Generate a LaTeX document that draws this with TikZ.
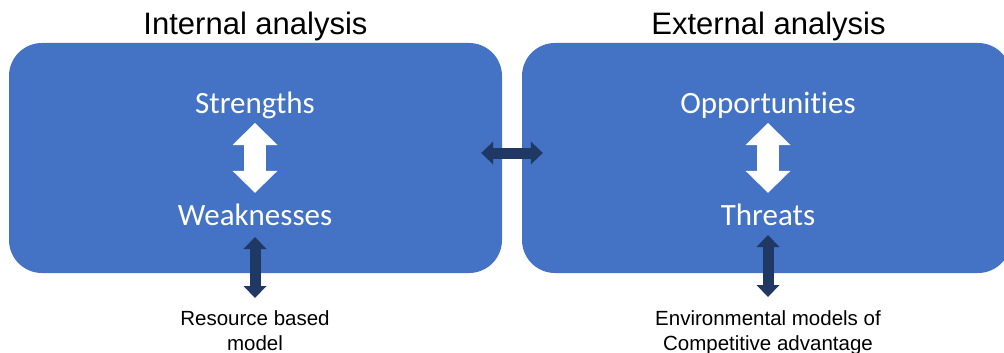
\documentclass[tikz,border=0pt]{standalone}
\usepackage{fontspec}
\usetikzlibrary{arrows.meta,calc}
\newfontfamily\arialf{Liberation Sans}
\newfontfamily\calf[Ligatures=CommonOff]{Carlito}
\definecolor{boxblue}{HTML}{4472C4}
\definecolor{navy}{HTML}{203864}

\begin{document}
\begin{tikzpicture}[x=1pt,y=-1pt,
  panel/.style={rectangle, rounded corners=33pt, fill=boxblue, inner sep=0pt},
  heading/.style={font=\arialf\fontsize{31}{37}\selectfont, anchor=base, inner sep=0pt},
  item/.style={font=\calf\fontsize{31}{37}\selectfont, text=white, anchor=base,
    inner sep=0pt, text height=20pt, text depth=0pt},
  note/.style={font=\arialf\fontsize{20.5}{25}\selectfont, align=center,
    anchor=north, inner sep=0pt},
  swap/.style={draw=white, line width=22pt,
    {Triangle[length=22pt,width=45pt,line width=0pt]}-{Triangle[length=22pt,width=45pt,line width=0pt]}},
  link/.style={draw=navy, line width=11pt,
    {Triangle[length=12pt,width=23pt,line width=0pt]}-{Triangle[length=12pt,width=23pt,line width=0pt]}}
]
\useasboundingbox (0,0) rectangle (1004,353);

% the two analysis panels
\node[panel, minimum width=493pt, minimum height=230pt] (int) at (255.5,158) {};
\node[panel, minimum width=489pt, minimum height=230pt] (ext) at (766.5,158) {};

% headings
\node[heading] (intT) at (255.5,35) {Internal analysis};
\node[heading] (extT) at (768.5,35) {External analysis};

% panel contents
\node[item] (S) at (255,113) {Strengths};
\node[item] (W) at (255,225) {Weaknesses};
\node[item] (O) at (768,113) {Opportunities};
\node[item] (T) at (768,225) {Threats};

% models below the panels
\node[note] (rbm) at (255,310) {Resource based\\model};
\node[note] (env) at (768,310) {Environmental models of\\Competitive advantage};

% arrows
\draw[swap] ([yshift=-10pt]S.base) -- ([yshift=12pt]W.north);
\draw[swap] ([yshift=-10pt]O.base) -- ([yshift=12pt]T.north);
\draw[link] ($(int.east)+(-21,-5)$) -- ($(ext.west)+(21,-5)$);
\draw[link] ([yshift=-12pt]W.base) -- ([yshift=12pt]rbm.north);
\draw[link] ([yshift=-10pt]T.base) -- ([yshift=13pt]env.north);
\end{tikzpicture}
\end{document}
